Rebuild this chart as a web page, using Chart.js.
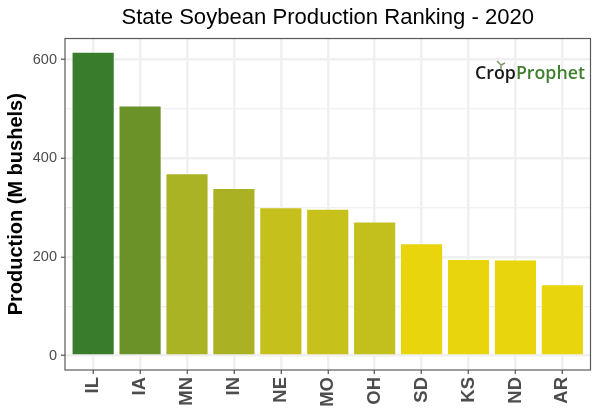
<!DOCTYPE html>
<html>
<head>
<meta charset="utf-8">
<title>State Soybean Production Ranking - 2020</title>
<script src="https://cdn.jsdelivr.net/npm/chart.js@4/dist/chart.umd.min.js"></script>
<style>
    html, body { margin: 0; padding: 0; background: #fff; }
    #wrap { position: relative; width: 600px; height: 420px; overflow: hidden; }
    #logo {
        position: absolute; left: 475px; top: 60px; line-height: 24px;
        font-family: "Open Sans", sans-serif; font-size: 17.8px; font-weight: 600;
        color: #16181a; white-space: nowrap;
    }
    #logo span { color: #3f7f2e; }
    #sprout { position: absolute; left: 496px; top: 60px; }
</style>
</head>
<body>
<div id="wrap">
    <canvas id="chart" width="600" height="420"></canvas>
    <div id="logo">Crop<span>Prophet</span></div>
    <svg id="sprout" width="12" height="9" viewBox="0 0 12 9">
        <path d="M5 9 L5 4 M5 5 L1 1 M5 5 L9 3" stroke="#7c9a6c" stroke-width="1.5" fill="none"/>
    </svg>
</div>
<script>
// Production values (M bushels)
const states = ['IL', 'IA', 'MN', 'IN', 'NE', 'MO', 'OH', 'SD', 'KS', 'ND', 'AR'];
const production = [616, 507, 370, 340, 301, 298, 272, 228, 196, 195, 145];
const barColors = ['#387c2c', '#6a9229', '#aab324', '#aab224', '#c5c01c', '#c6c11b',
    '#c3bf1c', '#e9d50c', '#e9d50c', '#e9d50c', '#e9d50c'];

const gridColor = '#f0f0f0';
const tickColor = '#4d4d4d';
const font = 'Liberation Sans';

// ggplot style panel border around the plot
const panelBorder = {
    id: 'panelBorder',
    afterDatasetsDraw(chart) {
        const { ctx, chartArea: a } = chart;
        ctx.save();
        ctx.strokeStyle = '#5a5a5a';
        ctx.lineWidth = 1.2;
        ctx.strokeRect(a.left, a.top, a.right - a.left, a.bottom - a.top);
        ctx.restore();
    }
};

new Chart(document.getElementById('chart'), {
    type: 'bar',
    data: {
        datasets: [{
            data: production.map((v, i) => ({ x: i, y: v })),
            backgroundColor: barColors,
            borderColor: 'rgba(255, 255, 255, 0.25)',
            borderWidth: 1,
            categoryPercentage: 0.92,
            barPercentage: 1
        }]
    },
    options: {
        responsive: false,
        animation: false,
        layout: { padding: { left: 0, right: 9.5, top: 0, bottom: 0 } },
        plugins: {
            legend: { display: false },
            tooltip: { enabled: false },
            title: {
                display: true,
                fullSize: false,
                text: 'State Soybean Production Ranking - 2020',
                color: '#000',
                font: { family: font, size: 22.1, weight: 'normal' },
                padding: { top: 5, bottom: 7 }
            }
        },
        scales: {
            x: {
                type: 'linear',
                offset: false,
                min: -0.6,
                max: 10.6,
                afterBuildTicks(scale) {
                    scale.ticks = states.map((_, i) => ({ value: i }));
                },
                afterFit(scale) { scale.height = 50; },
                grid: { offset: false, color: gridColor, lineWidth: 2.5, tickColor: '#4d4d4d', tickLength: 4, tickWidth: 1.2 },
                border: { display: false },
                ticks: {
                    autoSkip: false,
                    minRotation: 90,
                    maxRotation: 90,
                    padding: 3,
                    color: tickColor,
                    font: { family: font, size: 18.5, weight: 'bold' },
                    callback: v => states[v]
                }
            },
            y: {
                min: -29,
                max: 643,
                afterBuildTicks(scale) {
                    scale.ticks = [0, 100, 200, 300, 400, 500, 600].map(v => ({ value: v }));
                },
                afterFit(scale) { scale.width = 65; },
                grid: {
                    color: gridColor,
                    lineWidth: ctx => (ctx.tick && ctx.tick.value % 200 === 0 ? 2.5 : 1.2),
                    tickColor: ctx => (ctx.tick && ctx.tick.value % 200 === 0 ? '#4d4d4d' : 'transparent'),
                    tickLength: 4,
                    tickWidth: 1.2
                },
                border: { display: false },
                title: {
                    display: true,
                    text: 'Production (M bushels)',
                    color: '#000',
                    font: { family: font, size: 20, weight: 'bold' },
                    padding: { top: 4, bottom: 0 }
                },
                ticks: {
                    padding: 4,
                    color: tickColor,
                    font: { family: font, size: 14.5 },
                    callback: v => (v % 200 === 0 ? v : '')
                }
            }
        }
    },
    plugins: [panelBorder]
});
</script>
</body>
</html>
